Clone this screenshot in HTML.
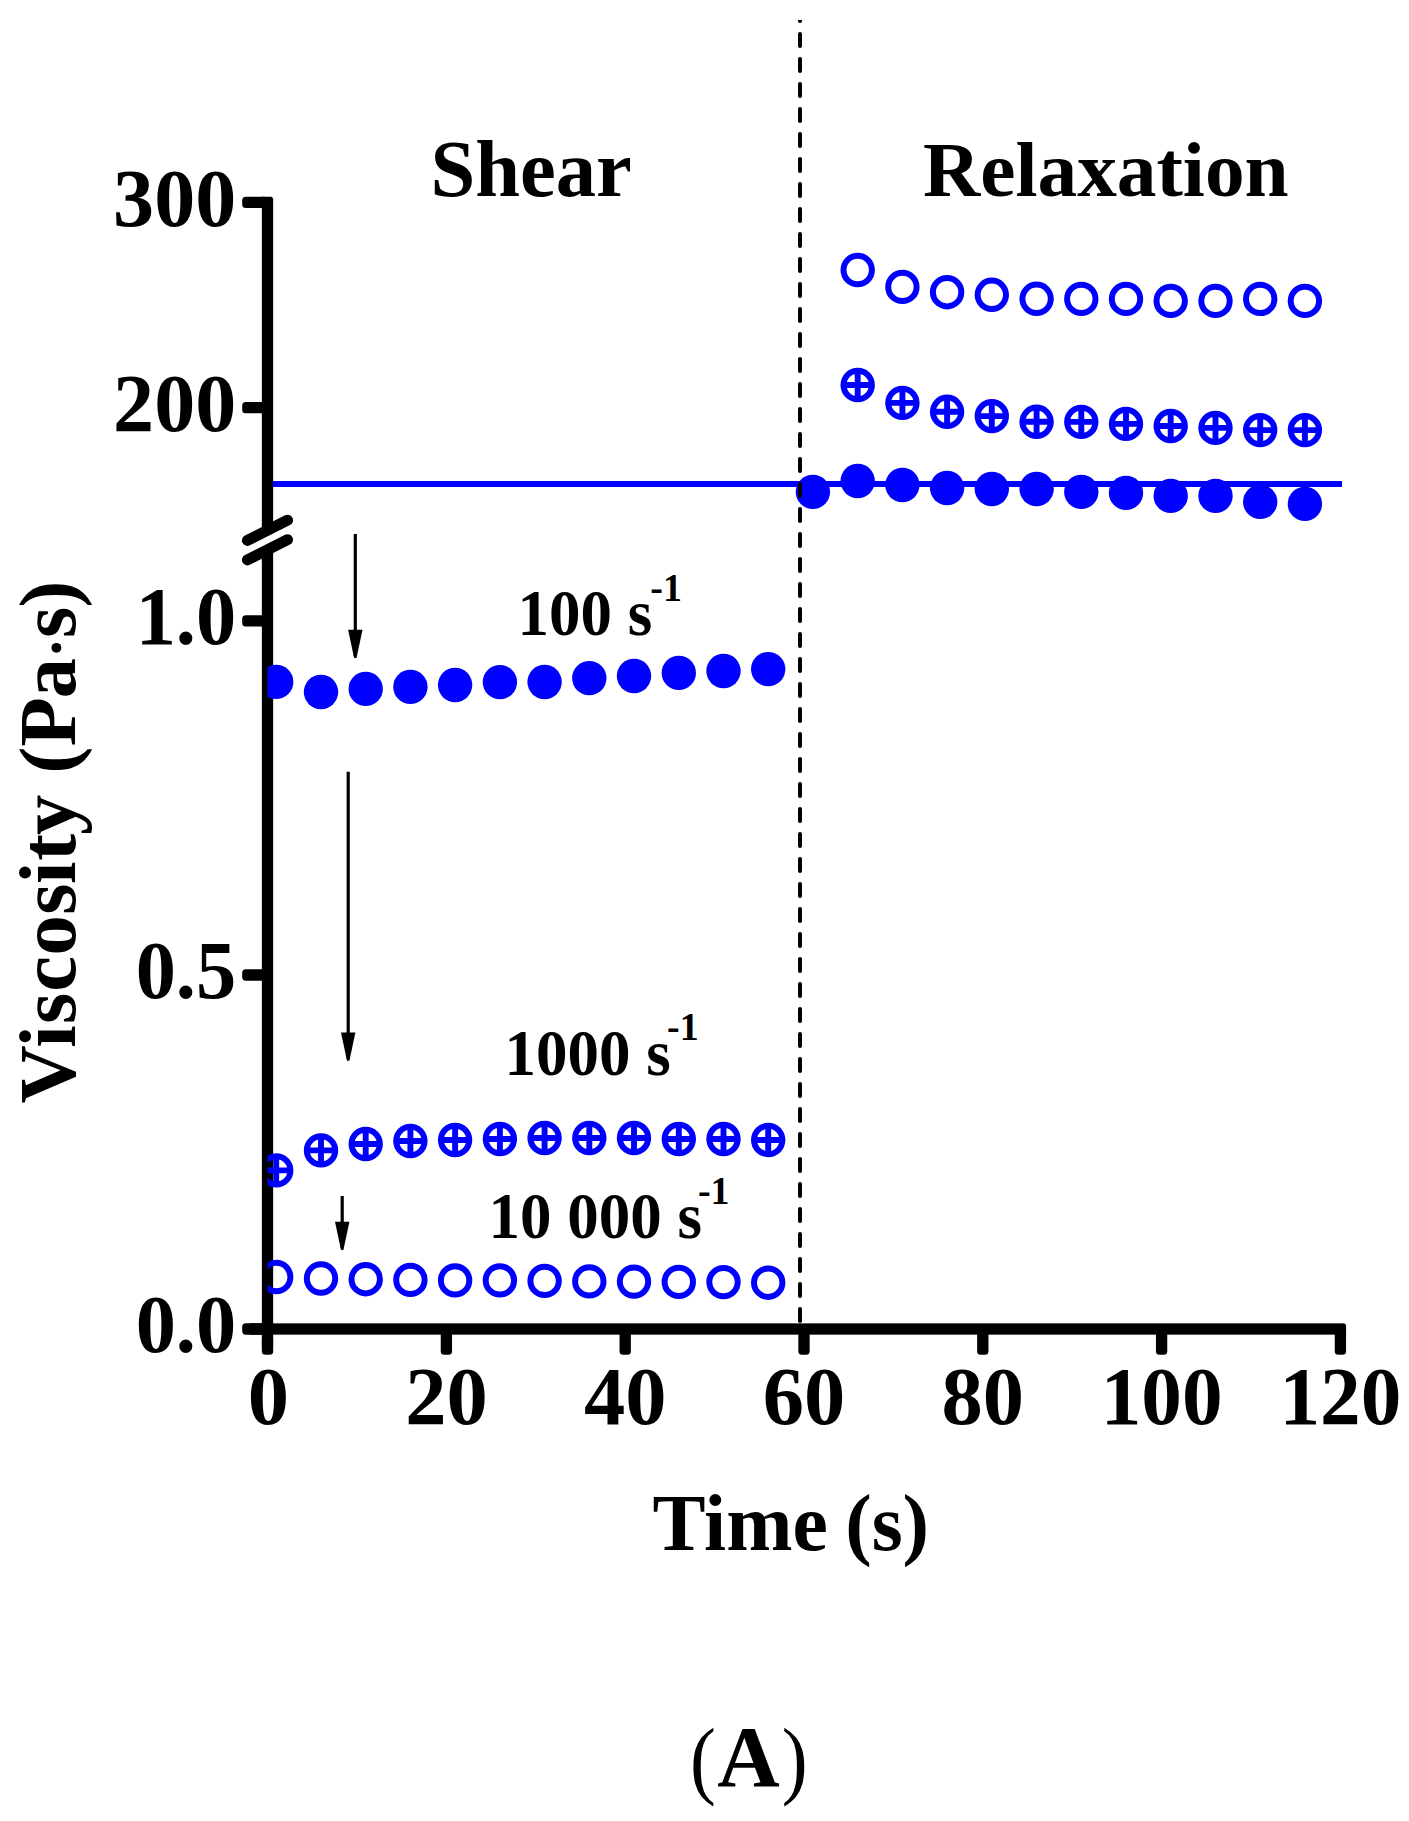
<!DOCTYPE html>
<html><head><meta charset="utf-8"><title>Viscosity vs Time</title>
<style>html,body{margin:0;padding:0;background:#fff}svg{display:block}text{font-family:"Liberation Serif",serif;font-weight:bold;fill:#000}</style></head><body>
<svg width="1409" height="1821" viewBox="0 0 1409 1821">
<rect width="1409" height="1821" fill="#fff"/>
<defs><clipPath id="plot"><rect x="267.5" y="0" width="1200" height="1400"/></clipPath><clipPath id="dash"><rect x="780" y="20" width="40" height="1310"/></clipPath></defs>
<g fill="#000">
<rect x="261.85" y="196.75" width="11.3" height="1149.25"/>
<rect x="261.85" y="1335" width="11.3" height="19.80" rx="3.6"/>
<rect x="250" y="1323.35" width="1096.05" height="11.3"/>
<rect x="242.2" y="196.75" width="25.30" height="11.3" rx="3.6"/>
<rect x="242.2" y="401.95" width="25.30" height="11.3" rx="3.6"/>
<rect x="242.2" y="615.25" width="25.30" height="11.3" rx="3.6"/>
<rect x="242.2" y="969.35" width="25.30" height="11.3" rx="3.6"/>
<rect x="242.2" y="1323.35" width="25.30" height="11.3" rx="3.6"/>
<rect x="440.75" y="1329.00" width="11.3" height="25.80" rx="3.6"/>
<rect x="619.55" y="1329.00" width="11.3" height="25.80" rx="3.6"/>
<rect x="798.35" y="1329.00" width="11.3" height="25.80" rx="3.6"/>
<rect x="977.15" y="1329.00" width="11.3" height="25.80" rx="3.6"/>
<rect x="1155.95" y="1329.00" width="11.3" height="25.80" rx="3.6"/>
<rect x="1334.75" y="1329.00" width="11.3" height="25.80" rx="3.6"/>
</g>
<polygon points="270.95,196.25 273.65,196.25 273.65,198.95" fill="#fff"/>
<polygon points="1343.8500000000001,1322.85 1346.5500000000002,1322.85 1346.5500000000002,1325.55" fill="#fff"/>
<polygon points="255,536.5 280,524 280,543.5 255,556" fill="#fff"/>
<g stroke="#000" stroke-width="11" stroke-linecap="round"><path d="M247.4 540.4L287.5 520.2"/><path d="M247.4 559.9L287.5 539.7"/></g>
<rect x="273" y="481" width="1069" height="6" fill="#0000ff"/>
<g clip-path="url(#plot)">
<circle cx="276.2" cy="681.9" r="17.2" fill="#0000ff"/>
<circle cx="321.0" cy="692.0" r="17.2" fill="#0000ff"/>
<circle cx="365.7" cy="688.9" r="17.2" fill="#0000ff"/>
<circle cx="410.4" cy="686.9" r="17.2" fill="#0000ff"/>
<circle cx="455.1" cy="685.0" r="17.2" fill="#0000ff"/>
<circle cx="499.9" cy="682.1" r="17.2" fill="#0000ff"/>
<circle cx="544.6" cy="682.0" r="17.2" fill="#0000ff"/>
<circle cx="589.3" cy="678.1" r="17.2" fill="#0000ff"/>
<circle cx="634.0" cy="676.0" r="17.2" fill="#0000ff"/>
<circle cx="678.8" cy="672.9" r="17.2" fill="#0000ff"/>
<circle cx="723.5" cy="671.0" r="17.2" fill="#0000ff"/>
<circle cx="768.2" cy="669.1" r="17.2" fill="#0000ff"/>
<circle cx="276.2" cy="1170.4" r="14.20" fill="none" stroke="#0000ff" stroke-width="6.0"/><path d="M262.0 1170.4H290.4M276.2 1156.2V1184.6" stroke="#0000ff" stroke-width="5.9" fill="none"/>
<circle cx="321.0" cy="1150.4" r="14.20" fill="none" stroke="#0000ff" stroke-width="6.0"/><path d="M306.8 1150.4H335.2M321.0 1136.2V1164.6" stroke="#0000ff" stroke-width="5.9" fill="none"/>
<circle cx="365.7" cy="1144.0" r="14.20" fill="none" stroke="#0000ff" stroke-width="6.0"/><path d="M351.5 1144.0H379.9M365.7 1129.8V1158.2" stroke="#0000ff" stroke-width="5.9" fill="none"/>
<circle cx="410.4" cy="1141.0" r="14.20" fill="none" stroke="#0000ff" stroke-width="6.0"/><path d="M396.2 1141.0H424.6M410.4 1126.8V1155.2" stroke="#0000ff" stroke-width="5.9" fill="none"/>
<circle cx="455.1" cy="1140.0" r="14.20" fill="none" stroke="#0000ff" stroke-width="6.0"/><path d="M440.9 1140.0H469.3M455.1 1125.8V1154.2" stroke="#0000ff" stroke-width="5.9" fill="none"/>
<circle cx="499.9" cy="1139.0" r="14.20" fill="none" stroke="#0000ff" stroke-width="6.0"/><path d="M485.7 1139.0H514.1M499.9 1124.8V1153.2" stroke="#0000ff" stroke-width="5.9" fill="none"/>
<circle cx="544.6" cy="1138.0" r="14.20" fill="none" stroke="#0000ff" stroke-width="6.0"/><path d="M530.4 1138.0H558.8M544.6 1123.8V1152.2" stroke="#0000ff" stroke-width="5.9" fill="none"/>
<circle cx="589.3" cy="1138.0" r="14.20" fill="none" stroke="#0000ff" stroke-width="6.0"/><path d="M575.1 1138.0H603.5M589.3 1123.8V1152.2" stroke="#0000ff" stroke-width="5.9" fill="none"/>
<circle cx="634.0" cy="1138.0" r="14.20" fill="none" stroke="#0000ff" stroke-width="6.0"/><path d="M619.8 1138.0H648.2M634.0 1123.8V1152.2" stroke="#0000ff" stroke-width="5.9" fill="none"/>
<circle cx="678.8" cy="1139.0" r="14.20" fill="none" stroke="#0000ff" stroke-width="6.0"/><path d="M664.6 1139.0H693.0M678.8 1124.8V1153.2" stroke="#0000ff" stroke-width="5.9" fill="none"/>
<circle cx="723.5" cy="1139.0" r="14.20" fill="none" stroke="#0000ff" stroke-width="6.0"/><path d="M709.3 1139.0H737.7M723.5 1124.8V1153.2" stroke="#0000ff" stroke-width="5.9" fill="none"/>
<circle cx="768.2" cy="1140.0" r="14.20" fill="none" stroke="#0000ff" stroke-width="6.0"/><path d="M754.0 1140.0H782.4M768.2 1125.8V1154.2" stroke="#0000ff" stroke-width="5.9" fill="none"/>
<circle cx="276.2" cy="1277.0" r="14.20" fill="none" stroke="#0000ff" stroke-width="6.0"/>
<circle cx="321.0" cy="1278.5" r="14.20" fill="none" stroke="#0000ff" stroke-width="6.0"/>
<circle cx="365.7" cy="1279.2" r="14.20" fill="none" stroke="#0000ff" stroke-width="6.0"/>
<circle cx="410.4" cy="1279.9" r="14.20" fill="none" stroke="#0000ff" stroke-width="6.0"/>
<circle cx="455.1" cy="1280.4" r="14.20" fill="none" stroke="#0000ff" stroke-width="6.0"/>
<circle cx="499.9" cy="1280.4" r="14.20" fill="none" stroke="#0000ff" stroke-width="6.0"/>
<circle cx="544.6" cy="1280.9" r="14.20" fill="none" stroke="#0000ff" stroke-width="6.0"/>
<circle cx="589.3" cy="1281.4" r="14.20" fill="none" stroke="#0000ff" stroke-width="6.0"/>
<circle cx="634.0" cy="1281.6" r="14.20" fill="none" stroke="#0000ff" stroke-width="6.0"/>
<circle cx="678.8" cy="1281.9" r="14.20" fill="none" stroke="#0000ff" stroke-width="6.0"/>
<circle cx="723.5" cy="1282.1" r="14.20" fill="none" stroke="#0000ff" stroke-width="6.0"/>
<circle cx="768.2" cy="1282.7" r="14.20" fill="none" stroke="#0000ff" stroke-width="6.0"/>
<circle cx="857.7" cy="270.0" r="14.20" fill="none" stroke="#0000ff" stroke-width="6.0"/>
<circle cx="902.4" cy="286.9" r="14.20" fill="none" stroke="#0000ff" stroke-width="6.0"/>
<circle cx="947.1" cy="292.2" r="14.20" fill="none" stroke="#0000ff" stroke-width="6.0"/>
<circle cx="991.8" cy="294.8" r="14.20" fill="none" stroke="#0000ff" stroke-width="6.0"/>
<circle cx="1036.6" cy="298.8" r="14.20" fill="none" stroke="#0000ff" stroke-width="6.0"/>
<circle cx="1081.3" cy="298.9" r="14.20" fill="none" stroke="#0000ff" stroke-width="6.0"/>
<circle cx="1126.0" cy="298.9" r="14.20" fill="none" stroke="#0000ff" stroke-width="6.0"/>
<circle cx="1170.7" cy="300.9" r="14.20" fill="none" stroke="#0000ff" stroke-width="6.0"/>
<circle cx="1215.5" cy="300.9" r="14.20" fill="none" stroke="#0000ff" stroke-width="6.0"/>
<circle cx="1260.2" cy="298.9" r="14.20" fill="none" stroke="#0000ff" stroke-width="6.0"/>
<circle cx="1304.9" cy="300.9" r="14.20" fill="none" stroke="#0000ff" stroke-width="6.0"/>
<circle cx="857.7" cy="385.0" r="14.20" fill="none" stroke="#0000ff" stroke-width="6.0"/><path d="M843.5 385.0H871.9M857.7 370.8V399.2" stroke="#0000ff" stroke-width="5.9" fill="none"/>
<circle cx="902.4" cy="402.9" r="14.20" fill="none" stroke="#0000ff" stroke-width="6.0"/><path d="M888.2 402.9H916.6M902.4 388.7V417.1" stroke="#0000ff" stroke-width="5.9" fill="none"/>
<circle cx="947.1" cy="411.8" r="14.20" fill="none" stroke="#0000ff" stroke-width="6.0"/><path d="M932.9 411.8H961.3M947.1 397.6V426.0" stroke="#0000ff" stroke-width="5.9" fill="none"/>
<circle cx="991.8" cy="416.1" r="14.20" fill="none" stroke="#0000ff" stroke-width="6.0"/><path d="M977.6 416.1H1006.0M991.8 401.9V430.3" stroke="#0000ff" stroke-width="5.9" fill="none"/>
<circle cx="1036.6" cy="421.8" r="14.20" fill="none" stroke="#0000ff" stroke-width="6.0"/><path d="M1022.4 421.8H1050.8M1036.6 407.6V436.0" stroke="#0000ff" stroke-width="5.9" fill="none"/>
<circle cx="1081.3" cy="421.9" r="14.20" fill="none" stroke="#0000ff" stroke-width="6.0"/><path d="M1067.1 421.9H1095.5M1081.3 407.7V436.1" stroke="#0000ff" stroke-width="5.9" fill="none"/>
<circle cx="1126.0" cy="423.9" r="14.20" fill="none" stroke="#0000ff" stroke-width="6.0"/><path d="M1111.8 423.9H1140.2M1126.0 409.7V438.1" stroke="#0000ff" stroke-width="5.9" fill="none"/>
<circle cx="1170.7" cy="426.0" r="14.20" fill="none" stroke="#0000ff" stroke-width="6.0"/><path d="M1156.5 426.0H1184.9M1170.7 411.8V440.2" stroke="#0000ff" stroke-width="5.9" fill="none"/>
<circle cx="1215.5" cy="427.9" r="14.20" fill="none" stroke="#0000ff" stroke-width="6.0"/><path d="M1201.3 427.9H1229.7M1215.5 413.7V442.1" stroke="#0000ff" stroke-width="5.9" fill="none"/>
<circle cx="1260.2" cy="430.1" r="14.20" fill="none" stroke="#0000ff" stroke-width="6.0"/><path d="M1246.0 430.1H1274.4M1260.2 415.9V444.3" stroke="#0000ff" stroke-width="5.9" fill="none"/>
<circle cx="1304.9" cy="430.1" r="14.20" fill="none" stroke="#0000ff" stroke-width="6.0"/><path d="M1290.7 430.1H1319.1M1304.9 415.9V444.3" stroke="#0000ff" stroke-width="5.9" fill="none"/>
<circle cx="812.9" cy="491.9" r="17.2" fill="#0000ff"/>
<circle cx="857.7" cy="481.0" r="17.2" fill="#0000ff"/>
<circle cx="902.4" cy="485.0" r="17.2" fill="#0000ff"/>
<circle cx="947.1" cy="488.0" r="17.2" fill="#0000ff"/>
<circle cx="991.8" cy="489.0" r="17.2" fill="#0000ff"/>
<circle cx="1036.6" cy="489.0" r="17.2" fill="#0000ff"/>
<circle cx="1081.3" cy="491.9" r="17.2" fill="#0000ff"/>
<circle cx="1126.0" cy="492.9" r="17.2" fill="#0000ff"/>
<circle cx="1170.7" cy="495.9" r="17.2" fill="#0000ff"/>
<circle cx="1215.5" cy="495.9" r="17.2" fill="#0000ff"/>
<circle cx="1260.2" cy="501.9" r="17.2" fill="#0000ff"/>
<circle cx="1304.9" cy="503.9" r="17.2" fill="#0000ff"/>
</g>
<g clip-path="url(#dash)"><path d="M800 1321V-10" stroke="#000" stroke-width="4" stroke-linecap="round" stroke-dasharray="12 13" fill="none"/></g>
<path d="M355.3 534V656" stroke="#000" stroke-width="3.2" fill="none"/><polygon points="348.1,629.8 362.5,629.8 356.5,658 354.1,658" fill="#000"/>
<path d="M348.2 771.7V1058.8" stroke="#000" stroke-width="3.2" fill="none"/><polygon points="341.0,1032.6 355.4,1032.6 349.4,1060.8 347.0,1060.8" fill="#000"/>
<path d="M342.2 1196V1248" stroke="#000" stroke-width="3.2" fill="none"/><polygon points="335.0,1221.8 349.4,1221.8 343.4,1250 341.0,1250" fill="#000"/>
<text transform="translate(236.2,225.6) scale(0.995,1)" font-size="82.5" text-anchor="end">300</text>
<text transform="translate(236.2,430.8) scale(0.995,1)" font-size="82.5" text-anchor="end">200</text>
<text transform="translate(236.2,644.1) scale(0.975,1)" font-size="82.5" text-anchor="end">1.0</text>
<text transform="translate(236.2,998.2) scale(0.975,1)" font-size="82.5" text-anchor="end">0.5</text>
<text transform="translate(236.2,1352.2) scale(0.975,1)" font-size="82.5" text-anchor="end">0.0</text>
<text transform="translate(268.4,1424.3) scale(1.0,1)" font-size="82.5" text-anchor="middle">0</text>
<text transform="translate(446.4,1424.3) scale(1.0,1)" font-size="82.5" text-anchor="middle">20</text>
<text transform="translate(625.2,1424.3) scale(1.0,1)" font-size="82.5" text-anchor="middle">40</text>
<text transform="translate(804.0,1424.3) scale(1.0,1)" font-size="82.5" text-anchor="middle">60</text>
<text transform="translate(982.8,1424.3) scale(1.0,1)" font-size="82.5" text-anchor="middle">80</text>
<text transform="translate(1161.6,1424.3) scale(0.985,1)" font-size="82.5" text-anchor="middle">100</text>
<text transform="translate(1340.4,1424.3) scale(0.985,1)" font-size="82.5" text-anchor="middle">120</text>
<text x="430.5" y="196" font-size="80.5" text-anchor="start" >Shear</text>
<text x="923" y="196" font-size="79.3" text-anchor="start" >Relaxation</text>
<text x="652.5" y="1549.7" font-size="79.5" text-anchor="start" >Time</text>
<text x="845.2" y="1549.7" font-size="79.5" text-anchor="start" >(s)</text>
<text transform="rotate(-90)" x="-1103.5 -1047.8 -1023.9 -991.7 -955.6 -914.8 -884.0 -860.7 -834.9 -773.5 -746.6 -698.3 -638.0 -607.4" y="74.8" font-size="80.5">Viscosity(Pas)</text>
<circle cx="56.4" cy="647.85" r="4.95" fill="#000"/>
<text transform="translate(689.9,1787.6) scale(0.9,1)" font-size="86.4" font-weight="normal" style="font-weight:normal">(</text>
<text transform="translate(781.8,1787.6) scale(0.9,1)" font-size="86.4" font-weight="normal" style="font-weight:normal">)</text>
<text x="717.2" y="1786.4" font-size="86.5" text-anchor="start" >A</text>
<text transform="translate(517.5,635.1) scale(0.972,1)" font-size="64.8">100 s</text><text transform="translate(650.3,600.8) scale(0.96,1)" font-size="39.5">-1</text>
<text transform="translate(504.5,1074.5) scale(0.972,1)" font-size="64.8">1000 s</text><text transform="translate(667.1,1040.3) scale(0.96,1)" font-size="39.5">-1</text>
<text transform="translate(488.5,1237.9) scale(0.972,1)" font-size="64.8">10 000 s</text><text transform="translate(697.9,1204.1) scale(0.96,1)" font-size="39.5">-1</text>
</svg></body></html>
